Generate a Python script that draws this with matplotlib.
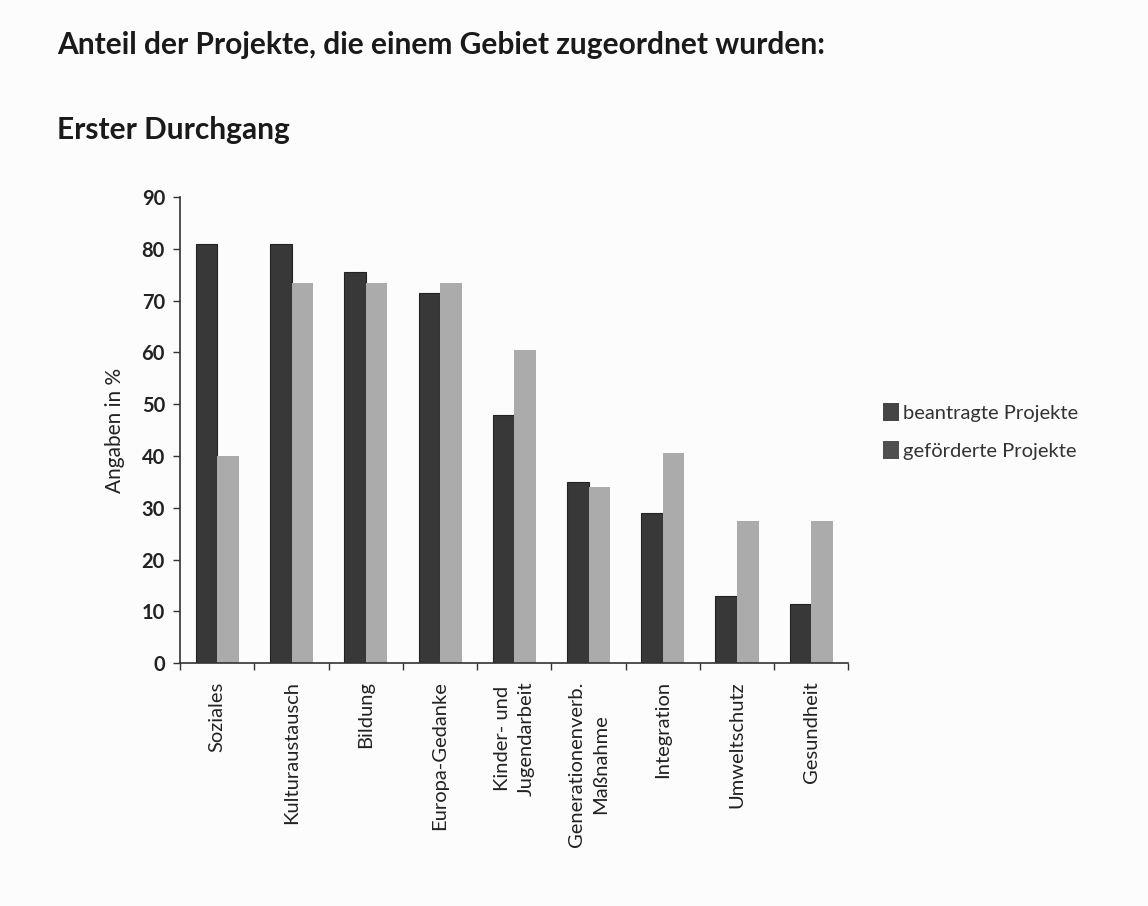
import numpy as np
import matplotlib
matplotlib.use('Agg')
import matplotlib.pyplot as plt
from matplotlib.patches import Patch

plt.rcParams['font.family'] = ['Lato', 'DejaVu Sans']

# Anteil der Projekte je Gebiet (Angaben in %)
categories = ['Soziales', 'Kulturaustausch', 'Bildung', 'Europa-Gedanke',
              'Kinder- und\nJugendarbeit', 'Generationenverb.\nMaßnahme',
              'Integration', 'Umweltschutz', 'Gesundheit']
beantragt = [81.0, 81.0, 75.5, 71.5, 48.0, 35.0, 29.0, 13.0, 11.5]
gefoerdert = [40.0, 73.5, 73.5, 73.5, 60.5, 34.0, 40.5, 27.5, 27.5]
series_names = ['beantragte Projekte', 'geförderte Projekte']
yticks = list(range(0, 100, 10))

dark = '#383838'
light = '#ababab'
bg = '#fcfcfc'

fig = plt.figure(figsize=(11.48, 9.06), dpi=100, facecolor=bg)
ax = fig.add_axes([0.157, 0.268, 0.582, 0.5145], facecolor=bg)

x = np.arange(len(categories))
w = 0.29
ax.bar(x - w / 2, beantragt, w, color=dark, edgecolor='#222222', linewidth=0.8)
ax.bar(x + w / 2, gefoerdert, w, color=light, edgecolor='none')

ax.set_xlim(-0.5, len(categories) - 0.5)
ax.set_ylim(0, 90)
ax.set_yticks(yticks)
ax.set_yticklabels([str(v) for v in yticks], fontsize=14.5, fontweight='bold', color='#222222')

# category boundaries carry the tick marks, labels sit at the centres
ax.set_xticks(np.arange(len(categories) + 1) - 0.5)
ax.set_xticklabels([])
ax.tick_params(axis='x', length=5, width=1, color='#333333', direction='out')
ax.tick_params(axis='y', length=5, width=1, color='#333333', direction='out', pad=6)
for xi, lab in zip(x, categories):
    ax.text(xi, -3.5, lab, rotation=90, ha='center', va='top', fontsize=14.5,
            color='#222222', linespacing=1.45, multialignment='center')

for s in ['top', 'right']:
    ax.spines[s].set_visible(False)
for s in ['left', 'bottom']:
    ax.spines[s].set_color('#333333')
    ax.spines[s].set_linewidth(1.2)

ax.set_ylabel('Angaben in %', fontsize=15, color='#222222', labelpad=12)

handles = [Patch(facecolor='#454545', edgecolor='none'), Patch(facecolor='#4f4f4f', edgecolor='none')]
fig.legend(handles, series_names, loc='upper left', bbox_to_anchor=(0.753, 0.575),
           frameon=False, fontsize=14.5, handlelength=0.8, handleheight=1.0,
           handletextpad=0.2, labelspacing=0.95, labelcolor='#333333')

fig.text(0.05, 0.95, 'Anteil der Projekte, die einem Gebiet zugeordnet wurden:',
         fontsize=21.5, fontweight='bold', color='#1a1a1a', ha='left', va='center')
fig.text(0.05, 0.856, 'Erster Durchgang', fontsize=21.5, fontweight='bold',
         color='#1a1a1a', ha='left', va='center')

fig.savefig('out.png', dpi=100, facecolor=bg)
